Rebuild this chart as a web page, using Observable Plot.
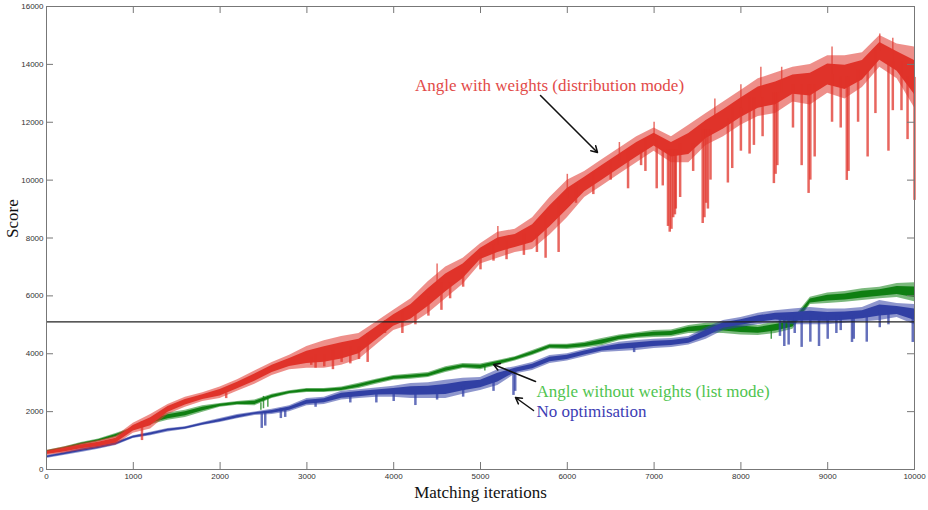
<!DOCTYPE html>
<html><head><meta charset="utf-8">
<script src="https://cdn.jsdelivr.net/npm/d3@7"></script>
<script src="https://cdn.jsdelivr.net/npm/@observablehq/plot@0.6"></script>
<style>body{margin:0;background:#fff;} #chart svg{display:block;}</style>
</head><body><div id="chart"></div>
<script>
const iterations = [0,200,400,600,800,1000,1200,1400,1600,1800,2000,2200,2400,2600,2800,3000,3200,3400,3600,3800,4000,4200,4400,4600,4800,5000,5200,5400,5600,5800,6000,6200,6400,6600,6800,7000,7200,7400,7600,7800,8000,8200,8400,8600,8800,9000,9200,9400,9600,9800,10000];

const redLow  = [480,560,660,740,850,1250,1400,1900,2150,2350,2450,2700,2950,3250,3450,3500,3500,3600,3800,4300,4800,5000,5400,5900,6400,7100,7300,7500,7600,8100,8700,9400,9800,10200,10600,11000,10600,10600,11200,11500,11900,12200,12300,12700,12600,13000,12800,13200,13900,13500,12500];
const redHigh = [660,780,900,1000,1150,1600,1900,2250,2500,2650,2850,3100,3400,3700,3950,4250,4450,4600,4700,5100,5500,5900,6500,7000,7300,7800,8200,8300,8700,9400,10000,10300,10700,11100,11500,11800,11500,11900,12300,12700,13100,13500,13700,13900,14000,14300,14300,14400,15000,14700,14600];

const greenLow  = [550,650,830,950,1100,1350,1550,1700,1800,1980,2150,2220,2200,2450,2600,2660,2660,2700,2800,2950,3080,3120,3180,3350,3490,3450,3590,3750,3940,4160,4150,4200,4280,4450,4530,4560,4580,4700,4720,4700,4650,4630,4700,4850,5700,5740,5780,5840,5900,5940,5800];
const greenHigh = [660,780,930,1050,1240,1450,1760,1950,2050,2200,2280,2350,2400,2600,2720,2800,2800,2850,2980,3120,3250,3300,3350,3550,3660,3650,3770,3900,4110,4330,4330,4400,4530,4650,4730,4800,4820,4980,5050,5080,5050,4980,5100,5200,5950,6100,6150,6250,6300,6430,6450];

const blueLow  = [380,480,590,700,830,1070,1170,1300,1380,1520,1620,1750,1870,1900,2000,2200,2250,2400,2450,2500,2500,2450,2450,2450,2600,2730,2900,3300,3420,3660,3750,3900,4040,4080,4110,4180,4220,4300,4500,4800,4910,5000,5080,5000,5000,5000,5050,5100,5150,5250,5000];
const blueHigh = [480,600,730,830,950,1170,1290,1420,1480,1620,1760,1900,1990,2080,2200,2450,2500,2700,2760,2820,2880,2970,3000,3080,3150,3180,3450,3550,3700,3940,4000,4150,4280,4400,4460,4500,4530,4600,4900,5150,5250,5400,5490,5550,5600,5550,5550,5600,5840,5740,5700];

// downward spikes [iteration, lowest score]
const redDips = [[1100,1000],[2070,2450],[3050,3600],[3100,3500],[3200,3550],[3300,3450],[3400,3700],[3500,3650],[3600,3800],[3700,3700],[3900,4700],[4100,4700],[4250,5000],[4400,5300],[4550,5500],[4650,5900],[4800,6300],[5000,6900],[5150,7200],[5300,7250],[5500,7400],[5650,7500],[5750,7300],[5900,7500],[6100,9200],[6300,9500],[6500,10000],[6700,9700],[6850,10500],[6900,10300],[7030,9700],[7100,9800],[7160,8400],[7180,8200],[7200,8300],[7220,8700],[7240,8800],[7250,9000],[7300,9400],[7450,10300],[7560,8500],[7580,8700],[7600,9200],[7620,9000],[7650,10000],[7850,9900],[7900,10400],[8000,11000],[8100,10900],[8150,11200],[8250,11500],[8380,9880],[8400,10200],[8420,10500],[8600,11800],[8700,10500],[8780,9540],[8800,10000],[8850,10800],[9050,12000],[9150,11800],[9220,9990],[9240,10300],[9350,12000],[9460,10800],[9550,12300],[9700,11000],[9750,12400],[9850,12400],[9920,11400],[10000,9300]];
// upward spikes [iteration, highest score]
const redPeaks = [[4500,7100],[5200,8400],[6000,10200],[6600,11300],[7000,12000],[7700,12800],[8000,13300],[8230,13900],[8470,13900],[9050,14600],[9600,15050],[9750,14900]];
const greenDips = [[2470,2050],[2500,2100],[2550,2150],[5050,3400],[8350,4500]];
const blueDips = [[2480,1420],[2520,1500],[2700,1760],[2750,1800],[3100,2150],[3500,2300],[3800,2300],[4000,2350],[4250,2210],[4500,2400],[4800,2500],[5150,2700],[5380,2560],[5400,2700],[6770,4040],[8450,4600],[8500,4250],[8550,4300],[8620,4700],[8700,4220],[8800,4400],[8900,4250],[9000,4500],[9100,4700],[9150,4800],[9280,4390],[9300,4500],[9450,4400],[9600,4900],[9700,5000],[9980,4390]];

const threshold = 5100;
const xTicks = [0,1000,2000,3000,4000,5000,6000,7000,8000,9000,10000];
const yTicks = [0,2000,4000,6000,8000,10000,12000,14000,16000];

const redLabel = [{text: "Angle with weights (distribution mode)", x: 5795, y: 13269}];
const sideLabels = [
  {text: "Angle without weights (list mode)", x: 5645, y: 2695, color: "#4fc44f"},
  {text: "No optimisation", x: 5645, y: 2004, color: "#3c3cb4"}
];
const arrows = [
  {x1: 5691, y1: 12923, x2: 6348, y2: 10954},
  {x1: 5634, y1: 3041, x2: 5150, y2: 3628},
  {x1: 5611, y1: 2039, x2: 5403, y2: 2488}
];

const RED = "#e0332a", GREEN = "#0f7f12", BLUE = "#3140a4";
const AXIS = "#777";
const W = 928, H = 510, ML = 46, MR = 14, MT = 6, MB = 41, TICK = 7;
const innerW = W - ML - MR, innerH = H - MT - MB;

function band(lo, hi) {
  return iterations.map((x, i) => {
    const q = (hi[i] - lo[i]) * 0.22;
    return {x, lo: lo[i], hi: hi[i], clo: lo[i] + q, chi: hi[i] - q};
  });
}
function spikes(list, lo, hi) {
  return list.map(([x, y]) => {
    const i = Math.min(iterations.length - 1, Math.round(x / 200));
    return {x, y1: y, y2: (lo[i] + hi[i]) / 2};
  });
}
function series(lo, hi, dipsList, color, w, peaks) {
  const b = band(lo, hi);
  const m = [
    Plot.areaY(b, {x: "x", y1: "lo", y2: "hi", fill: color, fillOpacity: 0.55}),
    Plot.areaY(b, {x: "x", y1: "clo", y2: "chi", fill: color}),
    Plot.ruleX(spikes(dipsList, lo, hi), {x: "x", y1: "y1", y2: "y2", stroke: color, strokeOpacity: 0.75, strokeWidth: w})
  ];
  if (peaks) m.push(Plot.ruleX(spikes(peaks, lo, hi), {x: "x", y1: "y1", y2: "y2", stroke: color, strokeOpacity: 0.7, strokeWidth: 1.5}));
  return m;
}

const serif = "'Liberation Serif', 'Times New Roman', serif";

const chart = Plot.plot({
  width: W, height: H,
  marginLeft: ML, marginRight: MR, marginTop: MT, marginBottom: MB,
  style: {fontFamily: "'Liberation Sans', Arial, sans-serif", fontSize: "8px", color: "#333", background: "#fff"},
  x: {domain: [0, 10000]},
  y: {domain: [0, 16000]},
  marks: [
    ...series(greenLow, greenHigh, greenDips, GREEN, 1.5),
    ...series(blueLow, blueHigh, blueDips, BLUE, 2.5),
    ...series(redLow, redHigh, redDips, RED, 2.5, redPeaks),
    Plot.ruleY([threshold], {stroke: "#222", strokeWidth: 1.3}),
    Plot.arrow(arrows, {x1: "x1", y1: "y1", x2: "x2", y2: "y2", stroke: "#111", strokeWidth: 1.5, headLength: 7}),
    Plot.text(redLabel, {x: "x", y: "y", text: "text", fill: "#e24a48", textAnchor: "middle", fontFamily: serif, fontSize: 17}),
    Plot.text(sideLabels, {x: "x", y: "y", text: "text", fill: "color", textAnchor: "start", fontFamily: serif, fontSize: 17}),
    Plot.frame({stroke: AXIS}),
    Plot.tickX(xTicks, {x: d => d, insetTop: innerH - TICK, stroke: AXIS}),
    Plot.tickX(xTicks, {x: d => d, insetBottom: innerH - TICK, stroke: AXIS}),
    Plot.tickY(yTicks, {y: d => d, insetRight: innerW - TICK, stroke: AXIS}),
    Plot.tickY(yTicks, {y: d => d, insetLeft: innerW - TICK, stroke: AXIS}),
    Plot.axisX(xTicks, {anchor: "bottom", tickSize: 0, tickPadding: 4, tickFormat: d3.format("d"), fill: "#333", label: null}),
    Plot.axisY(yTicks, {anchor: "left", tickSize: 0, tickPadding: 3, tickFormat: d3.format("d"), fill: "#333", label: null}),
    Plot.text(["Matching iterations"], {frameAnchor: "bottom", dy: 28, fontFamily: serif, fontSize: 17, fill: "#111"}),
    Plot.text(["Score"], {frameAnchor: "left", dx: -34, rotate: -90, fontFamily: serif, fontSize: 17, fill: "#111"})
  ]
});
document.getElementById("chart").appendChild(chart);
</script>
</body></html>
